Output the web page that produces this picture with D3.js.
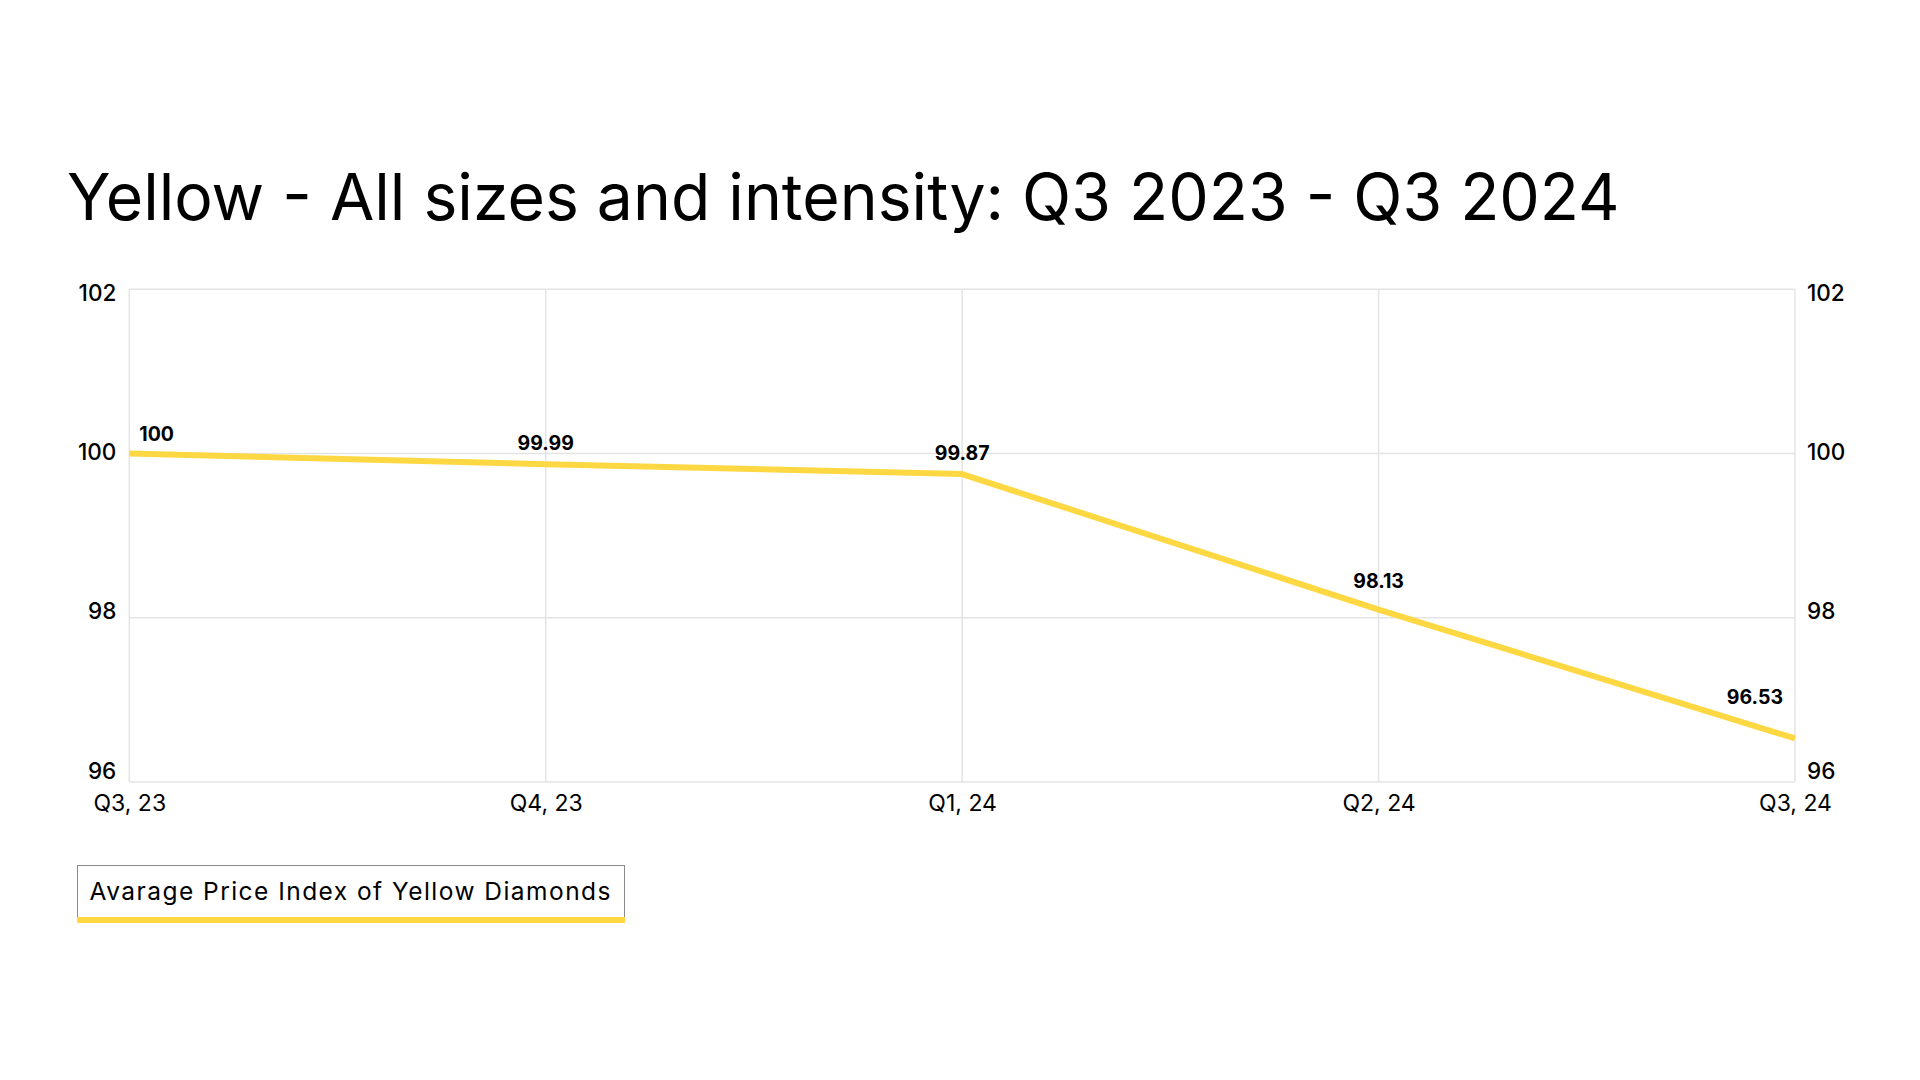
<!DOCTYPE html>
<html><head><meta charset="utf-8">
<script src="https://cdn.jsdelivr.net/npm/d3@7"></script>
<style>body{margin:0;background:#fff;overflow:hidden}</style>
</head><body>
<svg id="c" width="1920" height="1080"></svg>
<script>
const titleText = "Yellow - All sizes and intensity: Q3 2023 - Q3 2024";
const categories = ["Q3, 23", "Q4, 23", "Q1, 24", "Q2, 24", "Q3, 24"];
const values = [100, 99.87, 99.75, 98.10, 96.53];
const valueLabels = ["100", "99.99", "99.87", "98.13", "96.53"];
const yTicks = [96, 98, 100, 102];
const seriesName = "Avarage Price Index of Yellow Diamonds";

const FONT = "Inter, 'Noto Sans', sans-serif";
const YELLOW = "#FDD843";
const GRID = "#e4e4e4";

const svg = d3.select("#c");
svg.append("rect").attr("width", 1920).attr("height", 1080).attr("fill", "#fff");

const plot = {left: 129.3, right: 1795, top: 289.3, bottom: 782};

// title, fitted to the reference width
const title = svg.append("text").attr("x", 67).attr("y", 220)
  .attr("font-family", FONT).attr("font-size", 66).attr("font-weight", 400)
  .attr("fill", "#000").text(titleText);
const tw = title.node().getComputedTextLength();
title.attr("font-size", 66 * 1553 / tw);

const x = d3.scalePoint().domain(categories).range([plot.left, plot.right]);
const y = d3.scaleLinear().domain([96, 102]).range([plot.bottom, plot.top]);
// tick labels in the reference sit on a slightly compressed ladder
const yLab = d3.scaleLinear().domain([96, 102]).range([plot.bottom - 12, plot.top + 3]);

// grid
const g = svg.append("g");
g.selectAll(".hg").data(yTicks).join("line")
  .attr("x1", plot.left).attr("x2", plot.right)
  .attr("y1", d => y(d)).attr("y2", d => y(d))
  .attr("stroke", GRID).attr("stroke-width", 1.5);
g.selectAll(".vg").data(categories).join("line")
  .attr("x1", d => x(d)).attr("x2", d => x(d))
  .attr("y1", plot.top).attr("y2", plot.bottom)
  .attr("stroke", GRID).attr("stroke-width", 1.5);

// axes
const yAxisL = d3.axisLeft(yLab).tickValues(yTicks).tickSize(0).tickPadding(13).tickFormat(d3.format("d"));
svg.append("g").attr("transform", `translate(${plot.left},0)`).call(yAxisL)
  .call(s => s.select(".domain").remove())
  .call(s => s.selectAll("text").attr("font-family", FONT).attr("font-size", 22.5).attr("font-weight", 500).attr("fill", "#000").attr("dy", "0.36em"));
const yAxisR = d3.axisRight(yLab).tickValues(yTicks).tickSize(0).tickPadding(12).tickFormat(d3.format("d"));
svg.append("g").attr("transform", `translate(${plot.right},0)`).call(yAxisR)
  .call(s => s.select(".domain").remove())
  .call(s => s.selectAll("text").attr("font-family", FONT).attr("font-size", 22.5).attr("font-weight", 500).attr("fill", "#000").attr("dy", "0.36em"));
const xAxis = d3.axisBottom(x).tickSize(0).tickPadding(0);
svg.append("g").attr("transform", `translate(0,${plot.bottom})`).call(xAxis)
  .call(s => s.select(".domain").remove())
  .call(s => s.selectAll("text").attr("font-family", FONT).attr("font-size", 23).attr("font-weight", 400)
    .attr("fill", "#000").attr("y", 29).attr("dy", null));

// line
const pts = categories.map((c, i) => [x(c), y(values[i])]);
svg.append("path").datum(pts)
  .attr("d", d3.line())
  .attr("fill", "none").attr("stroke", YELLOW).attr("stroke-width", 6)
  .attr("stroke-linejoin", "round");

function lineYAt(px) {
  for (let i = 0; i < pts.length - 1; i++) {
    const [x0, y0] = pts[i], [x1, y1] = pts[i + 1];
    if (px >= x0 && px <= x1) return y0 + (y1 - y0) * (px - x0) / (x1 - x0);
  }
  return px < pts[0][0] ? pts[0][1] : pts[pts.length - 1][1];
}

// value labels: centred over the point, kept inside the plot, lifted clear of the line
const lbl = svg.append("g");
valueLabels.forEach((t, i) => {
  const el = lbl.append("text").attr("font-family", FONT).attr("font-size", 19.5)
    .attr("font-weight", 700).attr("fill", "#000").text(t);
  const w = el.node().getComputedTextLength();
  let cx = pts[i][0];
  cx = Math.max(plot.left + 10 + w / 2, Math.min(plot.right - 12 - w / 2, cx));
  const yMin = Math.min(lineYAt(cx - w / 2), lineYAt(cx + w / 2), lineYAt(cx));
  el.attr("x", cx).attr("text-anchor", "middle").attr("y", yMin - 13);
});

// legend
const leg = svg.append("g");
leg.append("rect").attr("x", 77.5).attr("y", 865.5).attr("width", 547).attr("height", 53)
  .attr("fill", "#fff").attr("stroke", "#8a8a8a").attr("stroke-width", 1);
leg.append("rect").attr("x", 77).attr("y", 917).attr("width", 548).attr("height", 6).attr("fill", YELLOW);
leg.append("text").attr("x", 89.5).attr("y", 899.5).attr("font-family", FONT).attr("font-size", 24.5)
  .attr("font-weight", 400).attr("textLength", 521).attr("lengthAdjust", "spacing")
  .attr("fill", "#000").text(seriesName);
</script>
</body></html>
